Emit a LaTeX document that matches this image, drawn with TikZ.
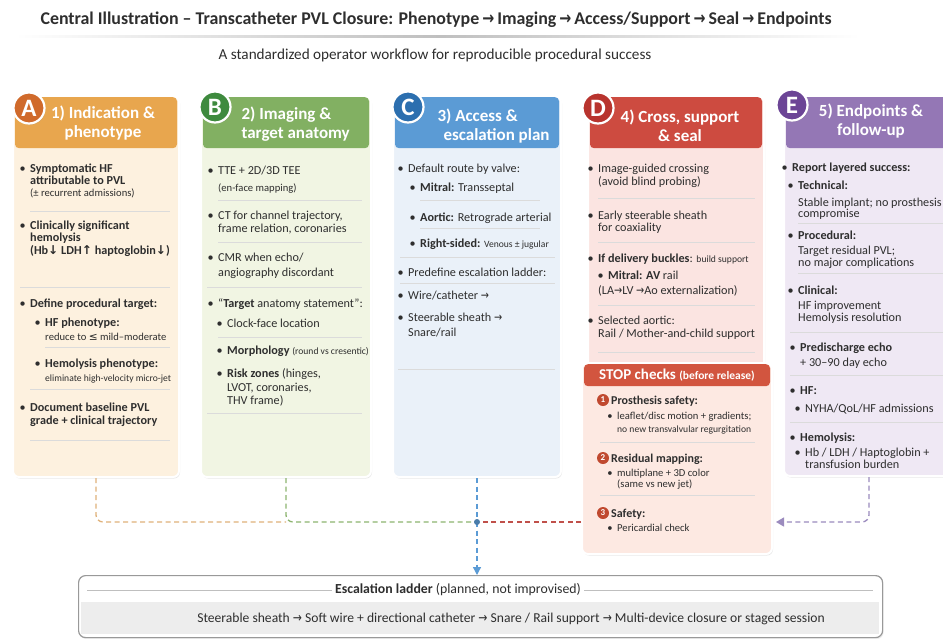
\documentclass[tikz,border=0pt]{standalone}
\usepackage{fontspec}
\setmainfont{Carlito}
\newfontfamily\arrowfont{DejaVu Sans}
\usetikzlibrary{arrows.meta,shadows}

% column colours
\definecolor{ink}{HTML}{2E2E2E}
\definecolor{headA}{HTML}{E8A64E}\definecolor{bodyA}{HTML}{FDF1DF}\definecolor{badgeA}{HTML}{D06A2B}
\definecolor{headB}{HTML}{82B062}\definecolor{bodyB}{HTML}{F1F5E3}\definecolor{badgeB}{HTML}{3E8A3E}
\definecolor{headC}{HTML}{5B9BD5}\definecolor{bodyC}{HTML}{EAF1F9}\definecolor{badgeC}{HTML}{2C6FAF}
\definecolor{headD}{HTML}{CD4B40}\definecolor{bodyD}{HTML}{FBE4E1}\definecolor{badgeD}{HTML}{B8342E}
\definecolor{headE}{HTML}{9477B5}\definecolor{bodyE}{HTML}{EFE8F4}\definecolor{badgeE}{HTML}{6C4596}
\definecolor{stopHead}{HTML}{D2553F}\definecolor{stopBody}{HTML}{FDE9E2}\definecolor{stopNum}{HTML}{C0492F}
\definecolor{linkA}{HTML}{E0B27A}\definecolor{linkB}{HTML}{8DB46F}\definecolor{linkC}{HTML}{5B9BD5}
\definecolor{linkD}{HTML}{C0504A}\definecolor{linkE}{HTML}{9B8BBE}

\newcommand{\itm}{\llap{•\hspace{4.5pt}}}
\newcommand{\rarr}{{\arrowfont\scalebox{0.8}[1]{→}}}
\newcommand{\uarr}{{\arrowfont\bfseries ↑}}
\newcommand{\darr}{{\arrowfont\bfseries ↓}}
\newcommand{\lteq}{{\arrowfont ≤}}
\newcommand{\fsm}{\fontsize{10.6}{12}\selectfont}
\newcommand{\ftn}{\fontsize{9.6}{11}\selectfont}

\tikzset{
  card/.style={draw=white, line width=2pt, rounded corners=6pt, anchor=north west,
    drop shadow={opacity=0.18, shadow xshift=1pt, shadow yshift=-1.5pt}},
  hdr/.style={rounded corners=4pt, anchor=north, inner sep=0pt},
  htxt/.style={text=white, font=\fontsize{17}{19}\selectfont\bfseries, align=center},
  badge/.style={circle, draw=white, line width=2.2pt, minimum size=31pt, inner sep=0pt, text=white,
    font=\fontsize{25}{25}\selectfont\bfseries, drop shadow={opacity=0.3, shadow xshift=0.8pt, shadow yshift=-1.2pt}},
  txt/.style={anchor=base west, inner sep=0pt, text=ink, font=\fontsize{12.2}{14}\selectfont},
  sep/.style={draw=black!14, line width=0.6pt},
  num/.style={circle, minimum size=12pt, inner sep=0pt, text=white, font=\fontsize{9}{9}\selectfont\bfseries},
  link/.style={dash pattern=on 5pt off 3.5pt, line width=1.3pt, rounded corners=7pt}
}

\begin{document}
\begin{tikzpicture}[x=1pt, y=-1pt]
\useasboundingbox[fill=white] (0,0) rectangle (943,638);
\clip (0,0) rectangle (943,638);

% Title and subtitle
\node[anchor=west, text=ink, font=\fontsize{17.9}{20}\selectfont\bfseries] (title) at (37,20) {Central Illustration -- Transcatheter PVL Closure: Phenotype\,\rarr\,Imaging\,\rarr\,Access/Support\,\rarr\,Seal\,\rarr\,Endpoints};
\shade[left color=white, right color=white, middle color=black!25] (15,35) rectangle (860,37.5);
\node[text=ink, font=\fontsize{15.2}{17}\selectfont] (subtitle) at (435,55) {A standardized operator workflow for reproducible procedural success};

% Cards
\node[card, fill=bodyA, minimum width=166pt, minimum height=381pt] (cardA) at (12,95) {};
\node[card, fill=bodyB, minimum width=170pt, minimum height=381pt] (cardB) at (200,95) {};
\node[card, fill=bodyC, minimum width=168pt, minimum height=381pt] (cardC) at (392,95) {};
\node[card, fill=bodyD, minimum width=176pt, minimum height=275pt] (cardD) at (587,95) {};
\node[card, fill=bodyE, minimum width=170pt, minimum height=380pt] (cardE) at (783,95) {};

% Headers
\node[hdr, fill=headA, minimum width=162pt, minimum height=51pt] (hdrA) at ([yshift=-2pt]cardA.north) {};
\node[hdr, fill=headB, minimum width=166pt, minimum height=51pt] (hdrB) at ([yshift=-2pt]cardB.north) {};
\node[hdr, fill=headC, minimum width=164pt, minimum height=51pt] (hdrC) at ([yshift=-2pt]cardC.north) {};
\node[hdr, fill=headD, minimum width=172pt, minimum height=51pt] (hdrD) at ([yshift=-2pt]cardD.north) {};
\node[hdr, fill=headE, minimum width=166pt, minimum height=51pt] (hdrE) at ([yshift=-2pt]cardE.north) {};
\node[htxt] (htA) at (103,123) {1) Indication \&\\phenotype};
\node[htxt, align=left, anchor=west] (htB) at (238,124) {2) Imaging \&\\target anatomy};
\node[htxt, align=left, anchor=west] (htC) at (434,126) {3) Access \&\\\hspace{6pt}escalation plan};
\node[htxt] (htD) at (680,126) {4) Cross, support\\\& seal};
\node[htxt] (htE) at (871,121) {5) Endpoints \&\\follow-up};
\node[badge, fill=badgeA] (bdgA) at (29,108) {A};
\node[badge, fill=badgeB] (bdgB) at (215,107) {B};
\node[badge, fill=badgeC] (bdgC) at (408,107) {C};
\node[badge, fill=badgeD] (bdgD) at (598,108) {D};
\node[badge, fill=badgeE] (bdgE) at (792,105) {E};

% Column A
\node[txt] (a1) at (30,172) {\itm\textbf{Symptomatic HF}};
\node[txt] (a2) at (30,184) {\textbf{attributable to PVL}};
\node[txt] (a3) at (30,196) {\fsm(± recurrent admissions)};
\draw[sep] (30,211) -- (170,211);
\node[txt] (a4) at (30,229) {\itm\textbf{Clinically significant}};
\node[txt] (a5) at (30,241) {\textbf{hemolysis}};
\node[txt] (a6) at (30,254) {\textbf{(Hb\darr\ LDH\uarr\ haptoglobin\darr)}};
\draw[sep] (20,287) -- (170,287);
\node[txt] (a7) at (30,307) {\itm\textbf{Define procedural target:}};
\node[txt] (a8) at (45,326) {\itm\textbf{HF phenotype:}};
\node[txt] (a9) at (45,340) {\fsm reduce to \lteq\ mild--moderate};
\draw[sep] (45,347) -- (170,347);
\node[txt] (a10) at (45,367) {\itm\textbf{Hemolysis phenotype:}};
\node[txt] (a11) at (45,381) {\ftn eliminate high-velocity micro-jet};
\draw[sep] (30,389) -- (170,389);
\node[txt] (a12) at (30,411) {\itm\textbf{Document baseline PVL}};
\node[txt] (a13) at (30,424) {\textbf{grade + clinical trajectory}};
\draw[sep] (30,440) -- (170,440);

% Column B
\node[txt] (b1) at (218,174) {\itm TTE + 2D/3D TEE};
\node[txt] (b2) at (218,191) {\fsm(en-face mapping)};
\draw[sep] (218,200) -- (362,200);
\node[txt] (b3) at (218,219) {\itm CT for channel trajectory,};
\node[txt] (b4) at (218,232) {frame relation, coronaries};
\draw[sep] (218,242) -- (362,242);
\node[txt] (b5) at (218,261) {\itm CMR when echo/};
\node[txt] (b6) at (218,276) {angiography discordant};
\draw[sep] (207,287) -- (362,287);
\node[txt] (b7) at (218,307) {\itm “\textbf{Target} anatomy statement”:};
\node[txt] (b8) at (227,327) {\itm Clock-face location};
\draw[sep] (218,337) -- (362,337);
\node[txt] (b9) at (227,354) {\itm\textbf{Morphology} {\ftn(round vs cresentic)}};
\node[txt] (b10) at (227,377) {\itm\textbf{Risk zones} (hinges,};
\node[txt] (b11) at (227,391) {LVOT, coronaries,};
\node[txt] (b12) at (227,404) {THV frame)};
\draw[sep] (207,413) -- (362,413);

% Column C
\node[txt] (c1) at (408,172) {\itm Default route by valve:};
\node[txt] (c2) at (420,191) {\itm\textbf{Mitral:} Transseptal};
\draw[sep] (420,200) -- (540,200);
\node[txt] (c3) at (420,221) {\itm\textbf{Aortic:} Retrograde arterial};
\draw[sep] (420,228) -- (540,228);
\node[txt] (c4) at (420,247) {\itm\textbf{Right-sided:} {\ftn Venous ± jugular}};
\draw[sep] (400,257) -- (555,257);
\node[txt] (c5) at (408,276) {\itm Predefine escalation ladder:};
\draw[sep] (400,283) -- (555,283);
\node[txt] (c6) at (408,299) {\itm Wire/catheter \rarr};
\node[txt] (c7) at (408,321) {\itm Steerable sheath \rarr};
\node[txt] (c8) at (408,336) {Snare/rail};
\draw[sep] (398,369) -- (555,369);

% Column D
\node[txt] (d1) at (598,172) {\itm Image-guided crossing};
\node[txt] (d2) at (598,185) {(avoid blind probing)};
\draw[sep] (598,198) -- (755,198);
\node[txt] (d3) at (598,219) {\itm Early steerable sheath};
\node[txt] (d4) at (598,231) {for coaxiality};
\draw[sep] (598,242) -- (755,242);
\node[txt] (d5) at (598,262) {\itm\textbf{If delivery buckles}: {\ftn build support}};
\node[txt] (d6) at (608,279) {\itm\textbf{Mitral: AV} rail};
\node[txt] (d7) at (598,294) {(LA\rarr LV \rarr Ao externalization)};
\draw[sep] (598,305) -- (755,305);
\node[txt] (d8) at (598,324) {\itm Selected aortic:};
\node[txt] (d9) at (598,337) {Rail / Mother-and-child support};
\draw[sep] (598,352) -- (755,352);

% STOP checks
\node[card, fill=stopBody, minimum width=190pt, minimum height=191pt] (stop) at (581,362) {};
\node[hdr, fill=stopHead, minimum width=186pt, minimum height=22pt] (stophd) at ([yshift=-2pt]stop.north) {};
\node[text=white, font=\fontsize{15}{17}\selectfont\bfseries] (stoptx) at (stophd) {STOP checks {\fontsize{11.5}{13}\selectfont(before release)}};
\node[num, fill=stopNum] (n1) at (603,400) {1};
\node[txt, font=\fontsize{12}{14}\selectfont\bfseries] (s1) at (611,404) {Prosthesis safety:};
\node[txt, font=\fsm] (s2) at (617,419) {\itm leaflet/disc motion + gradients;};
\node[txt, font=\ftn] (s3) at (617,432) {no new transvalvular regurgitation};
\draw[sep] (600,442) -- (755,442);
\node[num, fill=stopNum] (n2) at (603,458) {2};
\node[txt, font=\fontsize{12}{14}\selectfont\bfseries] (s4) at (611,462) {Residual mapping:};
\node[txt, font=\fsm] (s5) at (617,476) {\itm multiplane + 3D color};
\node[txt, font=\fsm] (s6) at (617,487) {(same vs new jet)};
\draw[sep] (600,495) -- (755,495);
\node[num, fill=stopNum] (n3) at (603,513) {3};
\node[txt, font=\fontsize{12}{14}\selectfont\bfseries] (s7) at (611,517) {Safety:};
\node[txt, font=\fsm] (s8) at (617,531) {\itm Pericardial check};

% Column E
\node[txt] (e1) at (792,171) {\itm\textbf{Report layered success:}};
\node[txt] (e2) at (798,189) {\itm\textbf{Technical:}};
\node[txt] (e3) at (798,206) {Stable implant; no prosthesis};
\node[txt] (e4) at (798,217) {compromise};
\draw[sep] (798,223) -- (943,223);
\node[txt] (e5) at (798,239) {\itm\textbf{Procedural:}};
\node[txt] (e6) at (798,254) {Target residual PVL;};
\node[txt] (e7) at (798,266) {no major complications};
\draw[sep] (798,273) -- (943,273);
\node[txt] (e8) at (798,294) {\itm\textbf{Clinical:}};
\node[txt] (e9) at (798,309) {HF improvement};
\node[txt] (e10) at (798,321) {Hemolysis resolution};
\draw[sep] (790,332) -- (943,332);
\node[txt] (e11) at (800,351) {\itm\textbf{Predischarge echo}};
\node[txt] (e12) at (800,366) {+ 30--90 day echo};
\draw[sep] (790,375) -- (943,375);
\node[txt] (e13) at (800,394) {\itm\textbf{HF:}};
\node[txt] (e14) at (805,412) {\itm NYHA/QoL/HF admissions};
\draw[sep] (790,422) -- (943,422);
\node[txt] (e15) at (800,441) {\itm\textbf{Hemolysis:}};
\node[txt] (e16) at (805,456) {\itm Hb / LDH / Haptoglobin +};
\node[txt] (e17) at (805,468) {transfusion burden};

% Escalation ladder
\node[draw=black!40, line width=1.2pt, rounded corners=7pt, fill=white, minimum width=804pt, minimum height=62pt, anchor=north west,
  drop shadow={opacity=0.15, shadow xshift=1pt, shadow yshift=-1.5pt}] (ladder) at (78,575) {};
\node[text=ink, font=\fontsize{13.8}{16}\selectfont] (ladtitle) at (458,590) {\textbf{Escalation ladder} (planned, not improvised)};
\draw[black!25, line width=0.6pt] (87,590) -- (ladtitle.west);
\draw[black!25, line width=0.6pt] (ladtitle.east) -- (873,590);
\fill[black!7] (81,602) rectangle (879,634);
\node[text=ink, font=\fontsize{13.6}{15}\selectfont] (ladtext) at (511,619) {Steerable sheath \rarr\ Soft wire + directional catheter \rarr\ Snare / Rail support \rarr\ Multi-device closure or staged session};

% Dashed connectors
\coordinate (row) at (0,522);
\coordinate (jn) at (cardC.south |- row);
\draw[link, linkA] (cardA.south) |- (cardB.south |- row);
\draw[link, linkB] (cardB.south) |- (jn);
\draw[link, linkD] (stop.west |- row) -- (jn);
\draw[link, linkC] (cardC.south) -- (jn);
\draw[link, linkC, -{Triangle[length=8pt, width=8pt]}] (jn) -- (jn |- ladder.north);
\draw[link, linkE, -{Triangle[length=8pt, width=9pt]}] (cardE.south) |- ([xshift=3pt]stop.east |- row);
\fill[linkC!80!black] (jn) circle (3pt);
\end{tikzpicture}
\end{document}
